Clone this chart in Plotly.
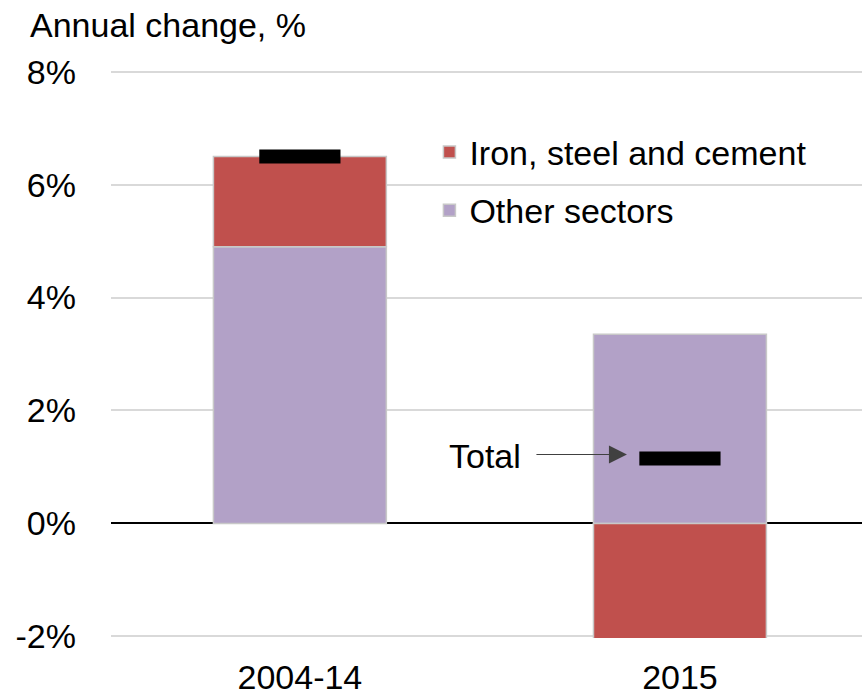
import plotly.graph_objects as go

categories = ["2004-14", "2015"]
other_sectors = [4.9, 3.35]
iron_steel_cement = [1.6, -2.2]
total = [6.5, 1.15]
y_ticks = [-2, 0, 2, 4, 6, 8]
y_tick_labels = ["-2%", "0%", "2%", "4%", "6%", "8%"]

FONT = "Liberation Sans"
RED = "#C0504D"
PURPLE = "#B2A1C7"
OUTLINE = "#c8c8c8"

fig = go.Figure()
fig.add_trace(go.Bar(
    x=categories, y=other_sectors, name="Other sectors",
    marker=dict(color=PURPLE, line=dict(color=OUTLINE, width=1.5)),
    legendgroup="b", legendrank=2,
))
fig.add_trace(go.Bar(
    x=categories, y=iron_steel_cement, name="Iron, steel and cement",
    marker=dict(color=RED, line=dict(color=OUTLINE, width=1.5)),
    legendgroup="a", legendrank=1,
))
fig.add_trace(go.Scatter(
    x=categories, y=total, mode="markers", name="Total", showlegend=False,
    marker=dict(symbol="line-ew", size=58, color="black",
                line=dict(color="black", width=14)),
))

fig.update_layout(
    width=862, height=695,
    margin=dict(l=111, r=0, t=70, b=57),
    paper_bgcolor="white", plot_bgcolor="white",
    barmode="relative", bargap=0.545,
    font=dict(family=FONT, size=34, color="black"),
    showlegend=True,
    legend=dict(x=0.424, y=0.906, xanchor="left", yanchor="top",
                traceorder="grouped", tracegroupgap=11,
                font=dict(family=FONT, size=34, color="black"),
                bgcolor="rgba(0,0,0,0)"),
    xaxis=dict(showgrid=False, showline=False, ticks="", automargin=False,
               range=[-0.497, 1.479],
               ticklabelstandoff=16,
               tickfont=dict(family=FONT, size=34, color="black")),
    yaxis=dict(range=[-2.03, 8.03], tickvals=y_ticks, ticktext=y_tick_labels,
               showgrid=True, gridcolor="#d9d9d9", gridwidth=1.5,
               zeroline=True, zerolinecolor="black", zerolinewidth=1.5,
               showline=False, ticks="", ticklabelstandoff=34, automargin=False,
               tickfont=dict(family=FONT, size=34, color="black")),
    annotations=[
        dict(text="Annual change, %", xref="paper", yref="paper",
             x=-0.1105, y=1.079, xanchor="left", yanchor="middle",
             showarrow=False, font=dict(family=FONT, size=34, color="black")),
        dict(text="Total", xref="paper", yref="y",
             x=0.5486, y=1.19, xanchor="right", yanchor="middle",
             showarrow=False, font=dict(family=FONT, size=34, color="black")),
        dict(text="", xref="paper", yref="y", x=0.687, y=1.22,
             ax=-92, ay=0, axref="pixel", ayref="pixel",
             showarrow=True, arrowhead=2, arrowsize=3, arrowwidth=1.2,
             arrowcolor="#404040", standoff=0),
    ],
)

fig.write_html("out.html",
               config={"displayModeBar": False},
               post_script="document.body.style.margin='0';"
                           "document.body.style.overflow='hidden';")
